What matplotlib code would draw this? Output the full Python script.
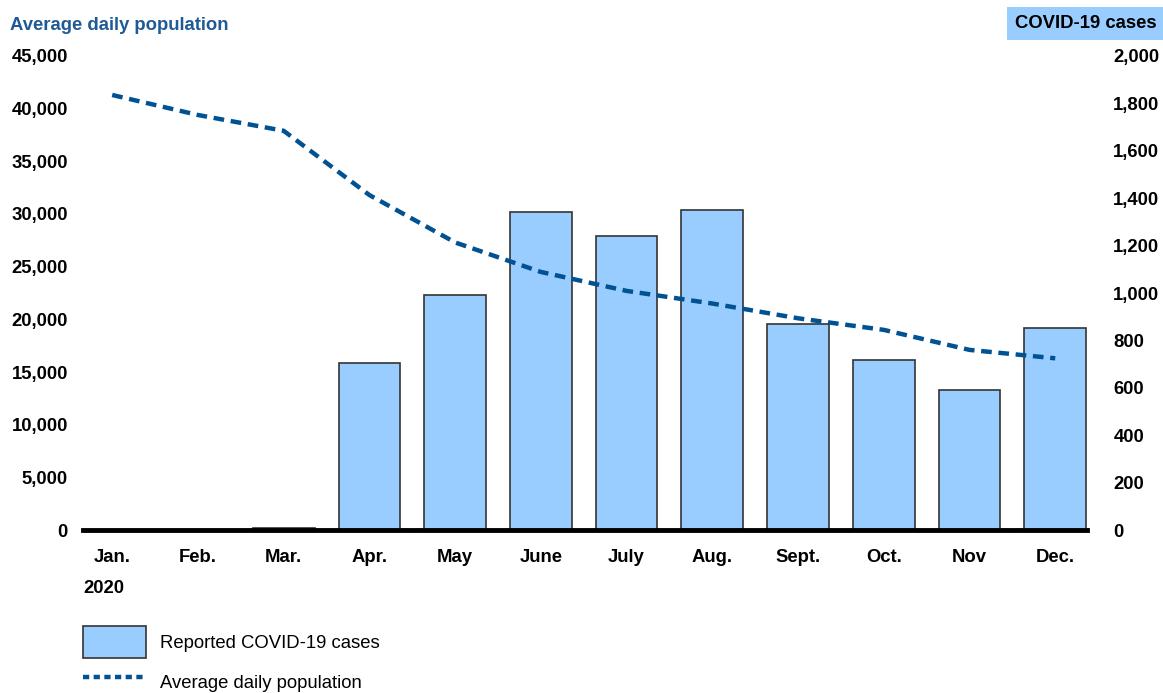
import numpy as np
import matplotlib
matplotlib.use('Agg')
import matplotlib.pyplot as plt
from matplotlib.ticker import FuncFormatter
from matplotlib.patches import Patch
from matplotlib.lines import Line2D

plt.rcParams['font.family'] = ['Liberation Sans', 'DejaVu Sans']

months = ['Jan.', 'Feb.', 'Mar.', 'Apr.', 'May', 'June', 'July', 'Aug.', 'Sept.', 'Oct.', 'Nov', 'Dec.']
cases = [0, 0, 10, 705, 990, 1340, 1240, 1350, 870, 717, 591, 852]
population = [41300, 39400, 37900, 31800, 27300, 24500, 22700, 21500, 20100, 19000, 17100, 16300]

bar_color = '#99ccff'
line_color = '#005293'
title_color = '#1f5a96'

fig = plt.figure(figsize=(11.63, 6.93), dpi=100)
ax = fig.add_axes([0.0714, 0.2352, 0.8632, 0.684])
ax2 = ax.twinx()

x = np.arange(len(months))

# bars on the cases axis (right side)
ax.bar(x, cases, width=0.72, color=bar_color, edgecolor='#333333', linewidth=1.2, zorder=2)
ax.set_ylim(0, 2000)
ax.set_yticks(np.arange(0, 2001, 200))
ax.yaxis.tick_right()
ax.yaxis.set_major_formatter(FuncFormatter(lambda v, p: '{:,.0f}'.format(v)))
ax.tick_params(axis='y', length=0, pad=19, labelsize=13.3)
for lbl in ax.get_yticklabels():
    lbl.set_fontweight('bold')
    lbl.set_horizontalalignment('left')

# line on the population axis (left side)
ax2.plot(x, population, color=line_color, linewidth=3.2, dashes=(2.4, 1.5), zorder=3)
ax2.set_ylim(0, 45000)
ax2.set_yticks(np.arange(0, 45001, 5000))
ax2.yaxis.tick_left()
ax2.yaxis.set_major_formatter(FuncFormatter(lambda v, p: '{:,.0f}'.format(v)))
ax2.tick_params(axis='y', length=0, pad=11, labelsize=13.3)
for lbl in ax2.get_yticklabels():
    lbl.set_fontweight('bold')

ax.set_xlim(-0.34, 11.37)
ax.set_xticks(x)
ax.set_xticklabels(months, fontweight='bold', fontsize=13.3)
ax.tick_params(axis='x', length=0, pad=14)

for a in (ax, ax2):
    for s in a.spines.values():
        s.set_visible(False)

# thick baseline
ax2.axhline(0, color='black', linewidth=3.5, zorder=4, clip_on=False)

fig.text(0.0714, 0.151, '2020', fontsize=13.3, fontweight='bold', ha='left', va='center')

fig.text(0.009, 0.963, 'Average daily population', fontsize=13.3, fontweight='bold',
         color=title_color, ha='left', va='center')
fig.text(0.9945, 0.966, 'COVID-19 cases', fontsize=13.3, fontweight='bold', color='black',
         ha='right', va='center',
         bbox=dict(boxstyle='square,pad=0.45', facecolor=bar_color, edgecolor='none'))

handles = [Patch(facecolor=bar_color, edgecolor='#333333', linewidth=1.2),
           Line2D([0], [0], color=line_color, linewidth=3.2, dashes=(1.4, 1.0))]
fig.legend(handles, ['Reported COVID-19 cases', 'Average daily population'],
           loc='upper left', bbox_to_anchor=(0.0714, 0.0967), frameon=False,
           borderaxespad=0, borderpad=0,
           fontsize=13.3, handlelength=3.4, handleheight=2.3, handletextpad=0.75,
           labelspacing=0.45)

plt.savefig('out.png', dpi=100)
